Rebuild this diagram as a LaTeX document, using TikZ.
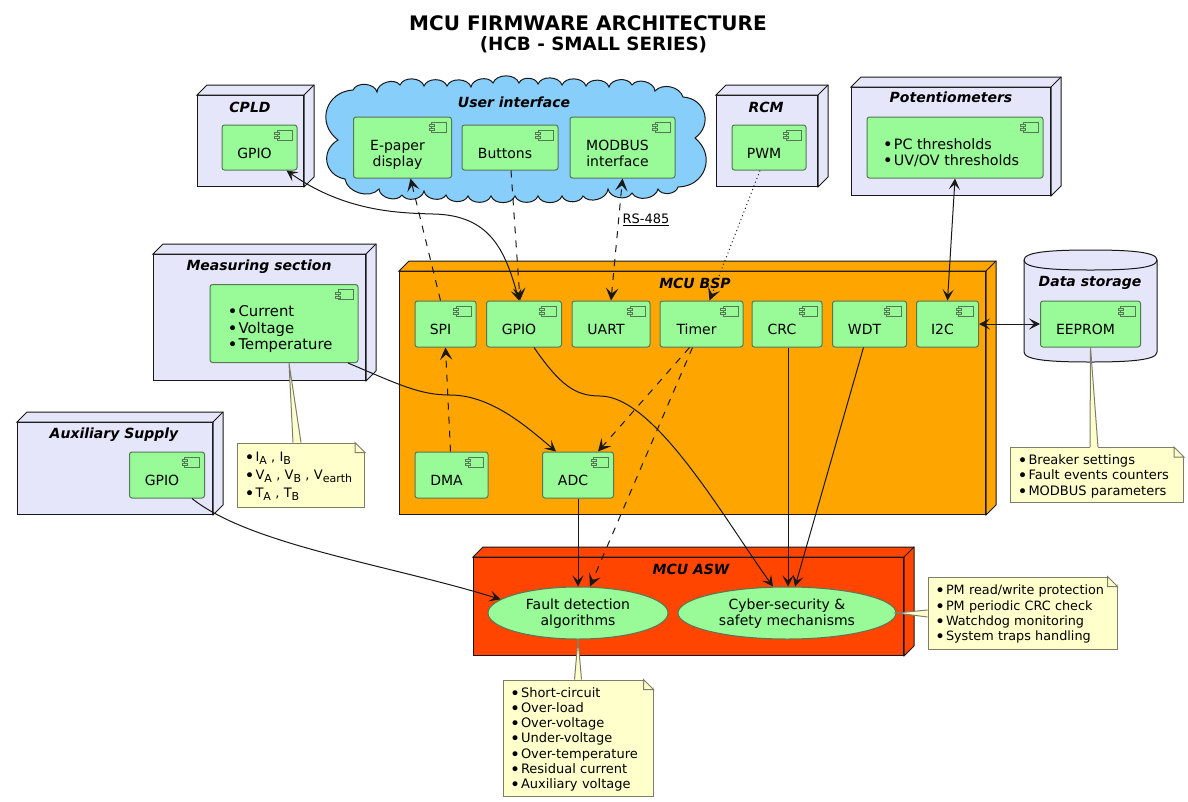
\documentclass[tikz,border=0pt]{standalone}
\usepackage{fontspec}
\setmainfont{DejaVu Sans}
\usetikzlibrary{arrows.meta, calc, shapes.geometric}

\definecolor{cubeblue}{RGB}{230, 230, 250}
\definecolor{compgreen}{RGB}{152, 251, 152}
\definecolor{compline}{RGB}{85, 120, 85}
\definecolor{bspfill}{RGB}{255, 165, 0}
\definecolor{aswfill}{RGB}{255, 69, 0}
\definecolor{cloudblue}{RGB}{135, 206, 250}
\definecolor{notefill}{RGB}{255, 255, 204}
\definecolor{noteline}{RGB}{125, 125, 105}
\definecolor{wire}{RGB}{24, 24, 24}

\newcommand{\ctext}[2][-5]{\raisebox{-11pt}[0pt][0pt]{\kern#1pt\relax\begin{tabular}{@{}c@{}}#2\end{tabular}\kern-#1pt\relax}}
\newcommand{\clist}[2][-4]{\raisebox{-10pt}[0pt][0pt]{\kern#1pt\relax\begin{tabular}{@{}l@{}}#2\end{tabular}\kern-#1pt\relax}}
\newcommand{\utext}[1]{\raisebox{-4.5pt}[0pt][0pt]{\begin{tabular}{@{}c@{}}#1\end{tabular}}}
\newcommand{\bitem}{\makebox[11pt][l]{\raisebox{-1pt}{\fontsize{17}{17}\selectfont •}}}
\newcommand{\nitem}{\makebox[11pt][l]{\raisebox{-2pt}{\fontsize{17}{17}\selectfont •}}}
\newcommand{\lowsub}[1]{\raisebox{-3pt}{\fontsize{11}{11}\selectfont #1}}

% 3D box: name, left, top, width, height, fill
\newcommand{\cubebox}[6]{
  \node[cubefront, fill=#6, minimum width=#4pt, minimum height=#5pt, anchor=north west] (#1) at (#2,#3) {};
  \draw[cubeline, fill=#6] (#1.north west) -- ++(10,-10) -- ([shift={(10,-10)}]#1.north east)
    -- ([shift={(10,-10)}]#1.south east) -- (#1.south east) -- (#1.north east) -- cycle;
  \draw[cubeline] (#1.north east) -- ++(10,-10);
}
% note fold and wedge
\newcommand{\notefold}[1]{
  \fill[white] ([xshift=-10pt]#1.north east) -- ([xshift=1pt,yshift=1pt]#1.north east) -- ([yshift=-10pt]#1.north east) -- cycle;
  \draw[noteedge, fill=notefill] ([xshift=-10pt]#1.north east) -- ([yshift=-10pt]#1.north east) -- ++(-10,0) -- cycle;
}
\newcommand{\notewedge}[3]{
  \fill[notefill] #1 -- #2 -- #3 -- cycle;
  \draw[notefill, line width=1.4pt] #2 -- #3;
  \draw[noteedge] #2 -- #1 -- #3;
}

\tikzset{
  x=1pt, y=-1pt,
  chev/.tip={Stealth[length=11pt, width=11pt, inset=5pt]},
  chevd/.tip={Stealth[length=12.5pt, width=12.5pt, inset=5.5pt]},
  cubefront/.style={draw=wire, line width=1pt, inner sep=0pt},
  cubeline/.style={draw=wire, line width=1pt, line join=miter},
  cubetitle/.style={font=\fontsize{14}{16}\selectfont\bfseries\itshape},
  comp/.style 2 args={fill=compgreen, draw=compline, line width=1pt, rounded corners=2.5pt, inner sep=0pt,
    minimum width=#1pt, minimum height=#2pt, font=\fontsize{14}{16}\selectfont,
    path picture={
      \draw[compline, line width=1pt, sharp corners] ([shift={(-20pt,-5pt)}]path picture bounding box.north east) rectangle ++(15pt,-10pt);
      \draw[compline, fill=compgreen, line width=1pt, sharp corners] ([shift={(-22.5pt,-7.5pt)}]path picture bounding box.north east) rectangle ++(5pt,-2pt);
      \draw[compline, fill=compgreen, line width=1pt, sharp corners] ([shift={(-22.5pt,-11.5pt)}]path picture bounding box.north east) rectangle ++(5pt,-2pt);
    }},
  usecase/.style 2 args={ellipse, fill=compgreen, draw=compline, line width=1pt, inner sep=0pt,
    minimum width=#1pt, minimum height=#2pt, font=\fontsize{14}{16}\selectfont},
  notebox/.style 2 args={fill=notefill, draw=noteline, line width=1pt, inner xsep=7pt, inner ysep=0pt,
    text width=#1pt-14pt, minimum height=#2pt, align=left, font=\fontsize{13}{15.3}\selectfont,
    execute at begin node={\rule{0pt}{12.5pt}}},
  noteedge/.style={draw=noteline, line width=1pt},
  link/.style={draw=wire, line width=1pt, -{chev}},
  linkboth/.style={draw=wire, line width=1pt, {chev}-{chev}},
  dashlink/.style={draw=wire, line width=1pt, -{chevd}, dash pattern=on 7pt off 7pt},
  dashboth/.style={draw=wire, line width=1pt, {chevd}-{chevd}, dash pattern=on 7pt off 7pt},
  dotlink/.style={draw=wire, line width=1pt, -{chevd}, dash pattern=on 1pt off 3pt},
}

\begin{document}
\begin{tikzpicture}
  \useasboundingbox (0,0) rectangle (1188,801);

  % Title
  \node[font=\fontsize{20}{22}\selectfont\bfseries] (titleone) at (588,23) {MCU FIRMWARE ARCHITECTURE};
  \node[font=\fontsize{18.3}{20}\selectfont\bfseries] (titletwo) at (593.5,45) {(HCB - SMALL SERIES)};

  % Boxes
  \cubebox{cpld}{197}{95}{106}{91}{cubeblue}
  \cubebox{rcm}{716}{95}{101}{91}{cubeblue}
  \cubebox{pots}{851}{87}{199}{108}{cubeblue}
  \cubebox{meas}{153}{254}{212}{126}{cubeblue}
  \cubebox{aux}{17}{422}{195}{92}{cubeblue}
  \cubebox{bsp}{399}{271}{586}{243}{bspfill}
  \cubebox{asw}{473}{557}{430}{98}{aswfill}

  % Cloud
  \draw[cubeline, fill=cloudblue] (338,140) to[bend left=70, looseness=1.35] (353,90)
    foreach \px/\py in {377/92,400/85,424/86,447/86,471/87,493/83,519/83,538/84,562/85,586/86,609/87,632/85,655/91} {to[bend left=70] (\px,\py)}
    to[bend left=60] (683,97) to[bend left=70, looseness=1.35] (695,138) to[bend left=70, looseness=1.35] (678,187)
    foreach \px/\py in {658/189,632/193,608/189,583/196,562/196,538/196,515/196,491/196,468/196,446/195,424/191,402/195,379/189} {to[bend left=70] (\px,\py)}
    to[bend left=65] (345,179) to[bend left=70, looseness=1.35] (338,140) -- cycle;

  % Data storage
  \draw[cubeline, fill=cubeblue] (1024,260) .. controls (1024,252) and (1050,250) .. (1090.5,250)
    .. controls (1131,250) and (1157,252) .. (1157,260) -- (1157,352)
    .. controls (1157,360) and (1131,362) .. (1090.5,362) .. controls (1050,362) and (1024,360) .. (1024,352) -- cycle;
  \draw[cubeline] (1024,260) .. controls (1024,268) and (1050,270) .. (1090.5,270) .. controls (1131,270) and (1157,268) .. (1157,260);

  % Box titles
  \node[cubetitle] (cpldtitle) at (250,107) {CPLD};
  \node[cubetitle] (uititle) at (514,102.5) {User interface};
  \node[cubetitle] (rcmtitle) at (766,107) {RCM};
  \node[cubetitle] (potstitle) at (951,97.5) {Potentiometers};
  \node[cubetitle] (meastitle) at (259,267) {Measuring section};
  \node[cubetitle] (auxtitle) at (114,435) {Auxiliary Supply};
  \node[cubetitle] (bsptitle) at (695,283) {MCU BSP};
  \node[cubetitle] (aswtitle) at (691,569) {MCU ASW};
  \node[cubetitle] (storetitle) at (1090,283) {Data storage};

  % Components
  \node[comp={75}{45}] (cpldgpio) at (259.5,147.5) {\ctext{GPIO}};
  \node[comp={98}{61}] (epaper) at (402.5,147.5) {\ctext{E-paper\\display}};
  \node[comp={96}{45}] (buttons) at (510,147.5) {\ctext{Buttons}};
  \node[comp={105}{61}] (modbus) at (622.5,147.5) {\ctext{MODBUS\\interface}};
  \node[comp={74}{45}] (pwm) at (769,147.5) {\ctext{PWM}};
  \node[comp={176}{61}, font=\fontsize{14.3}{16}\selectfont] (potcomp) at (955,147.5) {\clist{\bitem PC thresholds\\\bitem UV/OV thresholds}};
  \node[comp={148}{78}, font=\fontsize{14.8}{16.5}\selectfont] (meascomp) at (284,323.5) {\clist{\bitem Current\\\bitem Voltage\\\bitem Temperature}};
  \node[comp={75}{46}] (auxgpio) at (167,475) {\ctext{GPIO}};
  \node[comp={61}{46}] (spi) at (445.5,324) {\ctext{SPI}};
  \node[comp={75}{46}] (bspgpio) at (524,324) {\ctext{GPIO}};
  \node[comp={78}{46}] (uart) at (611,324) {\ctext{UART}};
  \node[comp={83}{46}] (timer) at (701.5,324) {\ctext{Timer}};
  \node[comp={70}{46}] (crc) at (787,324) {\ctext{CRC}};
  \node[comp={74}{46}] (wdt) at (869.5,324) {\ctext{WDT}};
  \node[comp={62}{46}] (iic) at (947.5,324) {\ctext{I2C}};
  \node[comp={73}{46}] (dma) at (451.5,475) {\ctext{DMA}};
  \node[comp={71}{46}] (adc) at (578,475) {\ctext{ADC}};
  \node[comp={100}{46}] (eeprom) at (1090.5,324) {\ctext{EEPROM}};

  % Use cases
  \node[usecase={180}{52}] (fault) at (578,613) {\utext{Fault detection\\algorithms}};
  \node[usecase={218}{52}] (cyber) at (787,613) {\utext{Cyber-security \&\\safety mechanisms}};

  % Connectors
  \draw[linkboth] ([xshift=27pt]cpldgpio.south) .. controls (345,212) and (400,213) .. (433,214)
    .. controls (490,215) and (505,250) .. ([xshift=-5pt]bspgpio.north);
  \draw[dashlink] ([xshift=-5pt]spi.north) -- ([xshift=8pt]epaper.south);
  \draw[dashlink] ([xshift=1pt]buttons.south) -- ([xshift=-4pt]bspgpio.north);
  \draw[dashboth] (uart.north) -- (modbus.south);
  \node[font=\fontsize{13}{15}\selectfont] (rslabel) at (646,220) {\underline{RS-485}};
  \draw[dotlink] ([xshift=-9pt]pwm.south) -- ([xshift=8pt]timer.north);
  \draw[linkboth] (potcomp.south) -- (iic.north);
  \draw[linkboth] (iic.east) -- (eeprom.west);
  \draw[link] ([xshift=64pt]meascomp.south) .. controls (400,385) and (420,395) .. (450,395)
    .. controls (490,395) and (525,425) .. ([xshift=-22pt]adc.north);
  \draw[dashlink] ([xshift=-1pt]dma.north) -- (spi.south);
  \draw[link] ([xshift=10pt]bspgpio.south) .. controls (560,385) and (575,396) .. (600,396)
    .. controls (655,396) and (725,520) .. ([xshift=-14pt]cyber.north);
  \draw[dashlink] ([xshift=-12pt]timer.south) -- ([xshift=20pt]adc.north);
  \draw[dashlink] ([xshift=-9pt]timer.south) -- ([xshift=12pt]fault.north);
  \draw[link] ([xshift=1pt]crc.south) -- ([xshift=1pt]cyber.north);
  \draw[link] ([xshift=-6pt]wdt.south) -- ([xshift=8pt]cyber.north);
  \draw[link] (adc.south) -- (fault.north);
  \draw[link] ([xshift=25pt]auxgpio.south) .. controls (250,545) and (390,565) .. (fault.170);

  % Notes
  \node[notebox={127}{64}] (notemeas) at (301,475) {\nitem I\lowsub{A} , I\lowsub{B}\\[2.5pt]\nitem V\lowsub{A} , V\lowsub{B} , V\lowsub{earth}\\[2.5pt]\nitem T\lowsub{A} , T\lowsub{B}};
  \node[notebox={173}{55}] (notestore) at (1097,475) {\nitem Breaker settings\\\nitem Fault events counters\\\nitem MODBUS parameters};
  \node[notebox={150}{116}] (notefault) at (578,738) {\nitem Short-circuit\\\nitem Over-load\\\nitem Over-voltage\\\nitem Under-voltage\\\nitem Over-temperature\\\nitem Residual current\\\nitem Auxiliary voltage};
  \node[notebox={189}{72}, font=\fontsize{12.8}{15.3}\selectfont] (notecyber) at (1022.5,613) {\nitem PM read/write protection\\\nitem PM periodic CRC check\\\nitem Watchdog monitoring\\\nitem System traps handling};

  \notewedge{([xshift=5pt]meascomp.south)}{([xshift=56pt]notemeas.north west)}{([xshift=64pt]notemeas.north west)}
  \notewedge{(eeprom.south)}{([xshift=80pt]notestore.north west)}{([xshift=88pt]notestore.north west)}
  \notewedge{(fault.south)}{([xshift=72pt]notefault.north west)}{([xshift=79pt]notefault.north west)}
  \notewedge{(cyber.east)}{([yshift=-4pt]notecyber.west)}{([yshift=3pt]notecyber.west)}
  \foreach \n in {notemeas, notestore, notefault, notecyber} {\notefold{\n}}
\end{tikzpicture}
\end{document}
